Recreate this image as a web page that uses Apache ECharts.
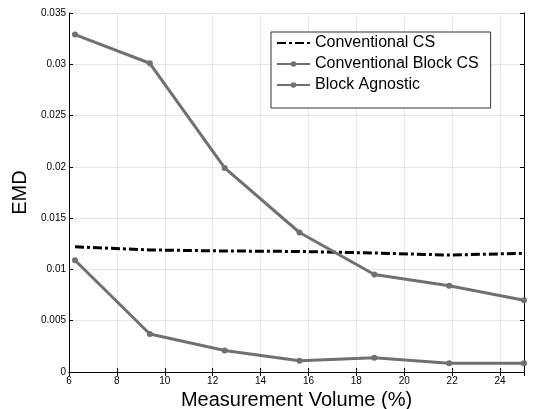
<!DOCTYPE html>
<html>
<head>
<meta charset="utf-8">
<script src="https://cdn.jsdelivr.net/npm/echarts@6/dist/echarts.min.js"></script>
<style>
  html, body { margin: 0; padding: 0; background: #fff; }
  #chart { width: 533px; height: 409px; }
</style>
</head>
<body>
<div id="chart"></div>
<script>
// measurement volume (%)
const volumes = [6.25, 9.375, 12.5, 15.625, 18.75, 21.875, 25];
const conventionalCS = [0.0122, 0.0119, 0.0118, 0.01175, 0.0116, 0.0114, 0.01157];
const conventionalBlockCS = [0.0329, 0.0301, 0.0199, 0.0136, 0.0095, 0.0084, 0.0070];
const blockAgnostic = [0.0109, 0.0037, 0.0021, 0.0011, 0.0014, 0.00085, 0.00085];

const pairs = vals => volumes.map((v, i) => [v, vals[i]]);

const font = "Liberation Sans";
const gridColor = "#e6e6e6";
const grey = "#707070";

const chart = echarts.init(document.getElementById("chart"));

const tickStyle = { inside: true, length: 4, lineStyle: { color: "#000", width: 1 } };

chart.setOption({
  animation: false,
  textStyle: { fontFamily: font },
  grid: { left: 69, right: 9, top: 13, bottom: 37, outerBoundsMode: "none" },
  legend: {
    orient: "vertical",
    left: 271,
    top: 32,
    padding: [3, 12, 15, 5],
    itemGap: 5,
    itemWidth: 33,
    itemHeight: 7,
    borderColor: "#333",
    borderWidth: 1,
    backgroundColor: "#fff",
    textStyle: { fontSize: 16, color: "#000", fontFamily: font },
    data: [
      { name: "Conventional CS", itemStyle: { color: "rgba(0,0,0,0)", borderWidth: 0 } },
      "Conventional Block CS",
      "Block Agnostic"
    ]
  },
  xAxis: [
    {
      type: "value",
      min: 6,
      max: 25,
      interval: 2,
      name: "Measurement Volume (%)",
      nameLocation: "middle",
      nameGap: 15,
      nameTextStyle: { fontSize: 20, color: "#000" },
      axisLine: { lineStyle: { color: "#000", width: 1 } },
      axisTick: tickStyle,
      axisLabel: { fontSize: 10, color: "#000", margin: 4, showMaxLabel: false },
      splitLine: { show: true, lineStyle: { color: gridColor } }
    },
    {
      type: "value",
      position: "top",
      min: 6,
      max: 25,
      interval: 2,
      axisLine: { lineStyle: { color: "#000", width: 1 } },
      axisTick: tickStyle,
      axisLabel: { show: false },
      splitLine: { show: false }
    }
  ],
  yAxis: [
    {
      type: "value",
      min: 0,
      max: 0.035,
      interval: 0.005,
      name: "EMD",
      nameLocation: "middle",
      nameGap: 34,
      nameTextStyle: { fontSize: 20, color: "#000" },
      axisLine: { show: true, lineStyle: { color: "#000", width: 1 } },
      axisTick: tickStyle,
      axisLabel: { fontSize: 10, color: "#000", margin: 3 },
      splitLine: { show: true, lineStyle: { color: gridColor } }
    },
    {
      type: "value",
      position: "right",
      min: 0,
      max: 0.035,
      interval: 0.005,
      axisLine: { show: true, lineStyle: { color: "#000", width: 1 } },
      axisTick: tickStyle,
      axisLabel: { show: false },
      splitLine: { show: false }
    }
  ],
  series: [
    {
      name: "Conventional CS",
      type: "line",
      data: pairs(conventionalCS),
      symbol: "none",
      clip: false,
      lineStyle: { color: "#000", width: 3, type: [9, 3, 3, 3] },
      itemStyle: { color: "#000" }
    },
    {
      name: "Conventional Block CS",
      type: "line",
      data: pairs(conventionalBlockCS),
      symbol: "circle",
      symbolSize: 6,
      clip: false,
      lineStyle: { color: grey, width: 3 },
      itemStyle: { color: grey }
    },
    {
      name: "Block Agnostic",
      type: "line",
      data: pairs(blockAgnostic),
      symbol: "circle",
      symbolSize: 6,
      clip: false,
      lineStyle: { color: grey, width: 3 },
      itemStyle: { color: grey }
    }
  ]
});
</script>
</body>
</html>
